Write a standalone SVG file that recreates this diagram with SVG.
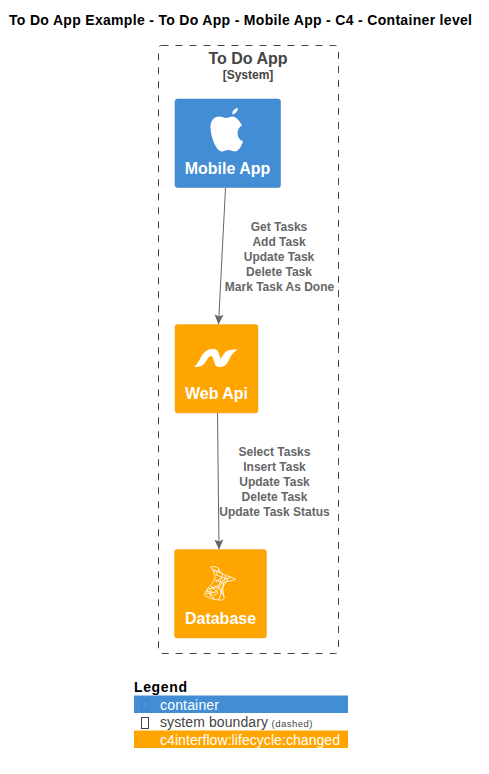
<svg xmlns="http://www.w3.org/2000/svg" width="489" height="774" viewBox="0 0 489 774">
<style>
text{font-family:"Liberation Sans",Arial,sans-serif}
.title{font-size:14px;font-weight:bold;fill:#000}
.name{font-size:16px;font-weight:bold;fill:#fff;text-anchor:middle}
.rel{font-size:12px;font-weight:bold;fill:#666;text-anchor:middle}
.conn{stroke:#666;stroke-width:1;fill:none;marker-end:url(#arr)}
.leg{font-size:14px}
.mesh{stroke:#fff;stroke-width:.8;fill:none}
</style>
<defs>
<marker id="arr" markerUnits="userSpaceOnUse" markerWidth="11" markerHeight="12" refX="10" refY="5" orient="auto"><path d="M0 .5L10 5L0 9.500L2 5Z" fill="#666"/></marker>
</defs>
<rect width="489" height="774" fill="#fff"/>
<text class="title" x="9" y="25" textLength="463" lengthAdjust="spacing">To Do App Example - To Do App - Mobile App - C4 - Container level</text>
<g id="boundary">
<rect x="158.500" y="45.500" width="180" height="608" rx="3" fill="none" stroke="#444" stroke-width="1" stroke-dasharray="7 7"/>
<text x="248" y="64" font-size="16" font-weight="bold" fill="#444" text-anchor="middle">To Do App</text>
<text x="248" y="79" font-size="12" font-weight="bold" fill="#444" text-anchor="middle">[System]</text>
</g>
<g id="connectors">
<path class="conn" d="M225.500 188L218.500 324.500"/>
<path class="conn" d="M217.500 413L219 549.500"/>
<g id="rel1"><text class="rel" x="279" y="231">Get Tasks</text><text class="rel" x="279" y="246">Add Task</text><text class="rel" x="279" y="261">Update Task</text><text class="rel" x="279" y="276">Delete Task</text><text class="rel" x="279.500" y="291">Mark Task As Done</text></g>
<g id="rel2"><text class="rel" x="274.500" y="456">Select Tasks</text><text class="rel" x="274.500" y="471">Insert Task</text><text class="rel" x="274.500" y="486">Update Task</text><text class="rel" x="274.500" y="501">Delete Task</text><text class="rel" x="274.500" y="516">Update Task Status</text></g>
</g>
<g id="mobile-app">
<rect x="175" y="99" width="105.500" height="88.500" rx="2.500" fill="#438dd5" stroke="#3c7fc0" stroke-width=".5"/>
<path fill="#fff" d="M232.500 114.500C235.500 113.800 237.500 111.500 238 108C234.500 108.700 231.800 111 232.500 114.500ZM226.500 118C224 118 222 116.500 219 116.500C214 116.500 210.500 121 210.500 127C210.500 136 216 151.500 222 151.500C224 151.500 225.500 150 228.500 150C231.500 150 232.500 151.500 235 151.500C238.500 151.500 241.500 146 243 141.500C239.500 140 237.500 137 237.500 133C237.500 129.500 239.500 127 242 125.500C240 122 236.500 116.500 232.500 116.500C230 116.500 228.500 118 226.500 118Z"/>
<text class="name" x="227.500" y="174">Mobile App</text>
</g>
<g id="web-api">
<rect x="175" y="324.500" width="83" height="88.500" rx="2.500" fill="#ffa500" stroke="#f0a030" stroke-width=".5"/>
<path fill="#fff" d="M194 367C198 364 200 358 203 354C206 350 209 349 213 349C217 349 218.500 351 219 354L220.500 359C222 357 224 353 226 351.500C228 350 231 349.500 238 349.500C233 352 231 356 229 360C227 364 225 367 220 367C216 367 215 365 214 361C213 358 212.500 356 211 356C209 356 207.500 359 205.500 362C203.500 365 201 367 194 367Z"/>
<text class="name" x="216.500" y="399">Web Api</text>
</g>
<g id="database">
<rect x="174.500" y="549.500" width="92" height="88.500" rx="2.500" fill="#ffa500" stroke="#f0a030" stroke-width=".5"/>
<g class="mesh">
<path d="M210.500 567C214 566 218 567 219 569C220 572 222 574 226 575.500C231 577 234 578 235.500 579.500C232 581 226 581.500 224 582C222 586 223 592 224 597C224.500 599 223 600.500 219 600C214 599.500 207 598 205 595.500C204 594 206 590 209 587C213 583 215 580 215 577C215 573 212 569 210.500 567Z"/>
<path d="M212 569L223 574L219 585L207 590L214 599M216 575L228 579L221 590L224 597M215 580L222 582L216 592L206 594M219 569L216 575M224 582L219 600M211 586L218 593L213 596M226 576L221 584M214 571L220 572M209 589L219 587L222 594M231 577L224 580M206 592L212 591L210 597M216 582L221 578"/>
</g>
<text class="name" x="220.500" y="624">Database</text>
</g>
<g id="legend">
<text x="134" y="692" font-size="14" font-weight="bold" fill="#000" textLength="53" lengthAdjust="spacing">Legend</text>
<rect x="134" y="695.500" width="214" height="17.500" fill="#438dd5"/>
<rect x="134" y="730.500" width="214" height="17.500" fill="#ffa500"/>
<rect x="141.500" y="700" width="7" height="11" fill="none" stroke="#3c7fc0"/>
<text class="leg" x="160" y="710" fill="#fff" textLength="59" lengthAdjust="spacing">container</text>
<rect x="141.500" y="717.500" width="7" height="11" fill="none" stroke="#444"/>
<text class="leg" x="160" y="727" fill="#444" textLength="108" lengthAdjust="spacing">system boundary</text>
<text x="271.500" y="727" font-size="9.500" fill="#444" textLength="41" lengthAdjust="spacing">(dashed)</text>
<text class="leg" x="160" y="745" fill="#fff" textLength="180" lengthAdjust="spacing">c4interflow:lifecycle:changed</text>
</g>
</svg>
